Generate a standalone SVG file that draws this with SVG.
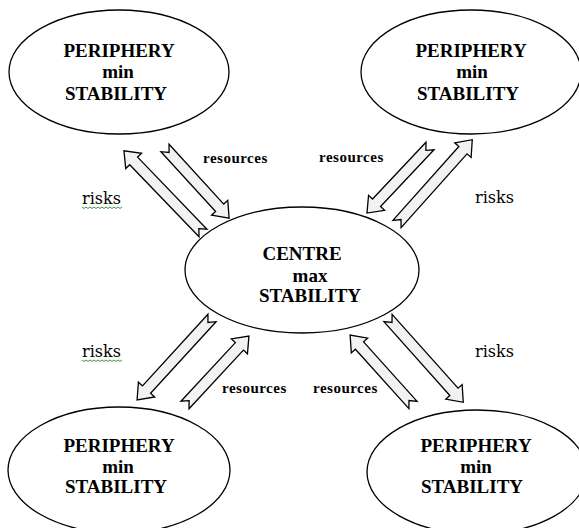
<svg xmlns="http://www.w3.org/2000/svg" width="579" height="528" viewBox="0 0 579 528">
<style>
.node ellipse{fill:#fff;stroke:#000;stroke-width:1.3}
.nt{font-family:"Liberation Serif","Times New Roman",serif;font-weight:bold;font-size:19px;fill:#000;text-anchor:middle}
.arrow{fill:#f2f2f2;stroke:#000;stroke-width:1.3;stroke-linejoin:miter}
.res{font-family:"Liberation Serif","Times New Roman",serif;font-weight:bold;font-size:15px;letter-spacing:0.5px;fill:#000}
.risk{font-family:"DejaVu Serif","Liberation Serif",serif;font-size:16px;fill:#000}
.wave{fill:none;stroke:#3a9a3a;stroke-width:1}
</style>
<rect width="579" height="528" fill="#fff"/>
<g id="node-tl" class="node">
<ellipse cx="119" cy="72" rx="110" ry="62"/>
<text class="nt" x="119" y="57">PERIPHERY</text>
<text class="nt" x="118" y="78">min</text>
<text class="nt" x="116" y="100">STABILITY</text>
</g>
<g id="node-tr" class="node">
<ellipse cx="471" cy="72" rx="110" ry="62"/>
<text class="nt" x="471" y="57">PERIPHERY</text>
<text class="nt" x="472" y="78">min</text>
<text class="nt" x="468" y="100">STABILITY</text>
</g>
<g id="node-centre" class="node">
<ellipse cx="302" cy="270" rx="117" ry="63"/>
<text class="nt" x="302" y="260">CENTRE</text>
<text class="nt" x="310" y="282">max</text>
<text class="nt" x="310" y="302">STABILITY</text>
</g>
<g id="node-bl" class="node">
<ellipse cx="119" cy="470" rx="111" ry="63"/>
<text class="nt" x="119" y="452">PERIPHERY</text>
<text class="nt" x="118" y="473">min</text>
<text class="nt" x="116" y="493">STABILITY</text>
</g>
<g id="node-br" class="node">
<ellipse cx="477" cy="472" rx="110" ry="62"/>
<text class="nt" x="476" y="452">PERIPHERY</text>
<text class="nt" x="476" y="473">min</text>
<text class="nt" x="472" y="493">STABILITY</text>
</g>
<g id="connectors">
<path class="arrow" transform="translate(203,233) rotate(-133.9)" d="M0,-5.5 H100 V-11 L114,0 L100,11 V5.5 H0 L6,0 Z"/>
<path class="arrow" transform="translate(165,148) rotate(47.56)" d="M0,-5.5 H81 V-11 L95,0 L81,11 V5.5 H0 L6,0 Z"/>
<path class="arrow" transform="translate(397,224) rotate(-48.24)" d="M0,-5.5 H99 V-11 L113,0 L99,11 V5.5 H0 L6,0 Z"/>
<path class="arrow" transform="translate(430,146) rotate(133.24)" d="M0,-5.5 H78 V-11 L92,0 L78,11 V5.5 H0 L6,0 Z"/>
<path class="arrow" transform="translate(212,318) rotate(132.45)" d="M0,-5.5 H97 V-11 L111,0 L97,11 V5.5 H0 L6,0 Z"/>
<path class="arrow" transform="translate(185,405) rotate(-47.15)" d="M0,-5.5 H80 V-11 L94,0 L80,11 V5.5 H0 L6,0 Z"/>
<path class="arrow" transform="translate(388,318) rotate(48.24)" d="M0,-5.5 H99 V-11 L113,0 L99,11 V5.5 H0 L6,0 Z"/>
<path class="arrow" transform="translate(413,405) rotate(-131.99)" d="M0,-5.5 H80 V-11 L94,0 L80,11 V5.5 H0 L6,0 Z"/>
</g>
<g id="labels">
<text class="res" x="203" y="163">resources</text>
<text class="res" x="319" y="162">resources</text>
<text class="res" x="222" y="393">resources</text>
<text class="res" x="313" y="393">resources</text>
<text class="risk" x="82" y="204">risks</text>
<path class="wave" d="M82,207 l2,1.5 l2,-1.5 l2,1.5 l2,-1.5 l2,1.5 l2,-1.5 l2,1.5 l2,-1.5 l2,1.5 l2,-1.5 l2,1.5 l2,-1.5 l2,1.5 l2,-1.5 l2,1.5 l2,-1.5 l2,1.5 l2,-1.5 l2,1.5 l2,-1.5"/>
<text class="risk" x="475" y="203">risks</text>
<text class="risk" x="82" y="357">risks</text>
<path class="wave" d="M82,360 l2,1.5 l2,-1.5 l2,1.5 l2,-1.5 l2,1.5 l2,-1.5 l2,1.5 l2,-1.5 l2,1.5 l2,-1.5 l2,1.5 l2,-1.5 l2,1.5 l2,-1.5 l2,1.5 l2,-1.5 l2,1.5 l2,-1.5 l2,1.5 l2,-1.5"/>
<text class="risk" x="475" y="357">risks</text>
</g>
</svg>
